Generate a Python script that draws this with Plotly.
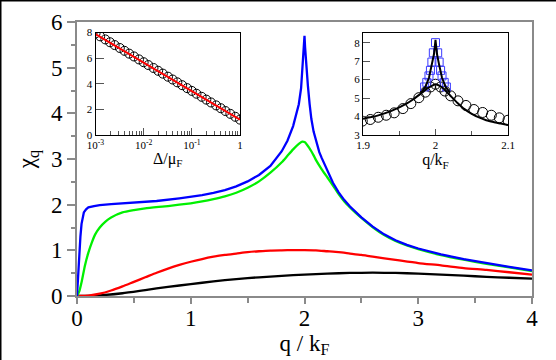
import plotly.graph_objects as go

# ---------------- main panel data ----------------
q_blue = [0, 0.01, 0.02, 0.03, 0.04, 0.05, 0.06, 0.08, 0.1, 0.15, 0.2, 0.3, 0.5, 0.7, 0.9, 1.0, 1.1, 1.2,
          1.3, 1.4, 1.5, 1.6, 1.7, 1.8, 1.85, 1.9, 1.95, 1.97, 1.985, 1.995, 2.0, 2.005, 2.015, 2.03,
          2.045, 2.06, 2.08, 2.1, 2.13, 2.15, 2.2, 2.25, 2.3, 2.35, 2.4, 2.45, 2.5, 2.6, 2.7, 2.8,
          2.9, 3.0, 3.2, 3.4, 3.6, 3.8, 4.0]
chi_blue = [0, 0.5, 0.95, 1.3, 1.58, 1.74, 1.83, 1.9, 1.94, 1.97, 1.99, 2.01, 2.04, 2.08, 2.14, 2.17,
            2.21, 2.26, 2.32, 2.4, 2.51, 2.65, 2.85, 3.17, 3.4, 3.72, 4.2, 4.55, 5.1, 5.45, 5.7, 5.45,
            5.05, 4.6, 4.2, 3.88, 3.6, 3.4, 3.15, 3.03, 2.74, 2.48, 2.27, 2.1, 1.96, 1.83, 1.72, 1.52,
            1.35, 1.22, 1.12, 1.04, 0.91, 0.81, 0.72, 0.64, 0.56]

q_green = [0, 0.02, 0.04, 0.07, 0.1, 0.13, 0.16, 0.2, 0.25, 0.3, 0.4, 0.5, 0.6, 0.8, 1.0, 1.1, 1.2,
           1.3, 1.4, 1.5, 1.6, 1.7, 1.8, 1.85, 1.9, 1.95, 1.98, 2.0, 2.02, 2.04, 2.06, 2.08, 2.1,
           2.15, 2.2, 2.25, 2.3, 2.35, 2.4, 2.45, 2.5, 2.6, 2.7, 2.8, 2.9, 3.0, 3.2, 3.4, 3.6, 3.8,
           4.0]
chi_green = [0, 0.1, 0.3, 0.67, 0.95, 1.17, 1.35, 1.5, 1.63, 1.72, 1.83, 1.88, 1.92, 1.97, 2.03, 2.07,
             2.12, 2.18, 2.26, 2.37, 2.51, 2.7, 2.93, 3.07, 3.21, 3.33, 3.38, 3.37, 3.32, 3.25, 3.17,
             3.08, 2.98, 2.78, 2.6, 2.42, 2.23, 2.07, 1.94, 1.82, 1.71, 1.505, 1.335, 1.205, 1.105,
             1.025, 0.895, 0.795, 0.705, 0.625, 0.545]

q_red = [0, 0.1, 0.2, 0.3, 0.4, 0.5, 0.6, 0.7, 0.8, 0.9, 1.0, 1.1, 1.2, 1.3, 1.4, 1.5, 1.6, 1.7, 1.8,
         1.9, 2.0, 2.1, 2.2, 2.3, 2.4, 2.5, 2.6, 2.8, 3.0, 3.2, 3.4, 3.6, 3.8, 4.0]
chi_red = [0, 0.01, 0.05, 0.12, 0.21, 0.31, 0.41, 0.51, 0.6, 0.68, 0.75, 0.81, 0.86, 0.9, 0.93,
           0.96, 0.98, 0.995, 1.0, 1.005, 1.005, 1.0, 0.98, 0.96, 0.93, 0.9, 0.86, 0.79, 0.72, 0.67,
           0.61, 0.57, 0.52, 0.47]

q_black = [0, 0.2, 0.4, 0.6, 0.8, 1.0, 1.2, 1.4, 1.6, 1.8, 2.0, 2.2, 2.4, 2.6, 2.8, 3.0, 3.2, 3.4,
           3.6, 3.8, 4.0]
chi_black = [0, 0.015, 0.06, 0.13, 0.2, 0.26, 0.32, 0.37, 0.41, 0.44, 0.47, 0.49, 0.505, 0.51, 0.505,
             0.49, 0.47, 0.445, 0.42, 0.4, 0.38]

# ---------------- inset 1 data (chi at q=2k_F vs Delta/mu_F) ----------------
delta_pts = [0.001, 0.00125, 0.0016, 0.002, 0.0025, 0.0032, 0.004, 0.005, 0.0063, 0.008,
             0.01, 0.0125, 0.016, 0.02, 0.025, 0.032, 0.04, 0.05, 0.063, 0.08,
             0.1, 0.125, 0.16, 0.2, 0.25, 0.32, 0.4, 0.5, 0.63, 0.8, 1.0]
chi_delta_pts = [7.92, 7.7, 7.46, 7.24, 7.02, 6.79, 6.57, 6.35, 6.13, 5.9,
                 5.68, 5.46, 5.23, 5.01, 4.79, 4.55, 4.33, 4.11, 3.89, 3.66,
                 3.44, 3.22, 2.98, 2.76, 2.54, 2.31, 2.09, 1.87, 1.65, 1.42, 1.2]
delta_line = [0.001, 1.0]
chi_delta_line = [7.88, 1.2]

# ---------------- inset 2 data (zoom near q = 2k_F) ----------------
q_circ = [1.899, 1.91, 1.921, 1.932, 1.943, 1.955, 1.966, 1.977, 1.986, 1.993, 2.0, 2.007, 2.013,
          2.021, 2.031, 2.042, 2.053, 2.065, 2.077, 2.088, 2.1]
chi_circ = [3.75, 3.84, 3.96, 4.07, 4.2, 4.43, 4.7, 5.02, 5.32, 5.6, 5.75, 5.6, 5.38, 5.12, 4.85,
            4.6, 4.38, 4.22, 4.07, 3.93, 3.8]
q_broad = [1.9, 1.92, 1.94, 1.96, 1.97, 1.98, 1.99, 2.0, 2.01, 2.02, 2.03, 2.04, 2.05, 2.06, 2.07,
           2.08, 2.09, 2.1]
chi_broad = [3.88, 4.05, 4.32, 4.7, 4.95, 5.25, 5.55, 5.75, 5.55, 5.15, 4.75, 4.4, 4.15, 3.95, 3.8,
             3.7, 3.62, 3.54]
q_sharp = [1.98, 1.986, 1.991, 1.995, 1.998, 2.0, 2.002, 2.005, 2.009, 2.014, 2.02]
chi_sharp = [5.3, 5.6, 6.1, 6.8, 7.4, 8.15, 7.4, 6.8, 6.1, 5.6, 5.3]
q_sq = [1.985, 1.988, 1.991, 1.993, 1.995, 1.997, 2.0, 2.003, 2.005, 2.007, 2.009, 2.012, 2.015]
chi_sq = [5.6, 5.85, 6.2, 6.5, 6.95, 7.45, 8.0, 7.45, 6.95, 6.5, 6.2, 5.85, 5.6]

decade_vals = [0.001, 0.01, 0.1, 1]
decade_text = ["10<sup>-3</sup>", "10<sup>-2</sup>", "10<sup>-1</sup>", "1"]
minor_log = [m * d for d in [0.001, 0.01, 0.1] for m in range(2, 10)]

FONT = "Liberation Serif"
GRAY = "#8a8a8a"

fig = go.Figure()

# main curves
fig.add_trace(go.Scatter(x=q_black, y=chi_black, mode="lines", line=dict(color="black", width=2.3, shape="spline", smoothing=0.6)))
fig.add_trace(go.Scatter(x=q_red, y=chi_red, mode="lines", line=dict(color="#ff0000", width=2.3, shape="spline", smoothing=0.6)))
fig.add_trace(go.Scatter(x=q_green, y=chi_green, mode="lines", line=dict(color="#00f000", width=2.3, shape="spline", smoothing=0.5)))
fig.add_trace(go.Scatter(x=q_blue, y=chi_blue, mode="lines", line=dict(color="#0000ff", width=2.3)))

# inset 1
fig.add_trace(go.Scatter(x=delta_pts, y=chi_delta_pts, mode="markers", xaxis="x2", yaxis="y2",
                         marker=dict(symbol="circle-open", size=9, color="black", line=dict(width=1, color="black"))))
fig.add_trace(go.Scatter(x=delta_line, y=chi_delta_line, mode="lines", xaxis="x2", yaxis="y2",
                         line=dict(color="#ff0000", width=2)))

# inset 2
fig.add_trace(go.Scatter(x=q_circ, y=chi_circ, mode="markers", xaxis="x3", yaxis="y3",
                         marker=dict(symbol="circle-open", size=10, color="black", line=dict(width=1, color="black"))))
fig.add_trace(go.Scatter(x=q_sq, y=chi_sq, mode="markers", xaxis="x3", yaxis="y3",
                         marker=dict(symbol="square-open", size=8, color="#3a3aff", line=dict(width=1, color="#3a3aff"))))
fig.add_trace(go.Scatter(x=q_broad, y=chi_broad, mode="lines", xaxis="x3", yaxis="y3",
                         line=dict(color="black", width=2, shape="spline", smoothing=0.5)))
fig.add_trace(go.Scatter(x=q_sharp, y=chi_sharp, mode="lines", xaxis="x3", yaxis="y3",
                         line=dict(color="black", width=2)))

L, R, T, B = 77, 24, 22, 64
W, H = 556, 360
pw, ph = W - L - R, H - T - B

def dx(px):
    return (px - L) / pw

def dy(py):
    return (H - B - py) / ph

inset_font = dict(family=FONT, size=11, color="black")

fig.update_layout(
    width=W, height=H,
    margin=dict(l=L, r=R, t=T, b=B, pad=0, autoexpand=False),
    paper_bgcolor="white", plot_bgcolor="white",
    showlegend=False,
    font=dict(family=FONT, color="black"),
    xaxis=dict(range=[0, 4], tick0=0, dtick=1, ticks="outside", ticklen=6, tickwidth=1.5, tickcolor=GRAY,
               minor=dict(dtick=0.5, ticks="outside", ticklen=4.5, tickwidth=1.5, tickcolor=GRAY),
               showline=True, linecolor=GRAY, linewidth=2, mirror=True, showgrid=False, zeroline=False,
               tickfont=dict(family=FONT, size=23), automargin=False, ticklabelstandoff=-6,
               title=dict(text="q / k<sub>F</sub>", font=dict(family=FONT, size=23), standoff=0)),
    yaxis=dict(range=[0, 6], tick0=0, dtick=1, ticks="outside", ticklen=8, tickwidth=1.5, tickcolor=GRAY,
               minor=dict(dtick=0.5, ticks="outside", ticklen=4.5, tickwidth=1.5, tickcolor=GRAY),
               showline=True, linecolor=GRAY, linewidth=2, mirror=True, showgrid=False, zeroline=False,
               tickfont=dict(family=FONT, size=23), automargin=False,
               title=dict(text="χ<sub>q</sub>", font=dict(family=FONT, size=23), standoff=10)),
    xaxis2=dict(domain=[dx(95.5), dx(240)], anchor="y2", type="log", range=[-3, 0],
                tickvals=decade_vals, ticktext=decade_text, ticks="inside", ticklen=7, tickcolor="#555",
                minor=dict(tickvals=minor_log, ticks="inside", ticklen=4, tickcolor="#555"),
                showline=True, linecolor="black", linewidth=1.2, mirror=True, showgrid=False, zeroline=False,
                tickfont=inset_font, automargin=False,
                title=dict(text="Δ/μ<sub>F</sub>", font=dict(family=FONT, size=16), standoff=2)),
    yaxis2=dict(domain=[dy(135), dy(32.5)], anchor="x2", range=[0, 8], dtick=2,
                ticks="inside", ticklen=8, tickcolor="#555", automargin=False,
                showline=True, linecolor="black", linewidth=1.2, mirror=True, showgrid=False, zeroline=False,
                tickfont=inset_font),
    xaxis3=dict(domain=[dx(363), dx(508)], anchor="y3", range=[1.9, 2.1], tick0=1.9, dtick=0.1,
                ticks="inside", ticklen=6, tickcolor="#555",
                minor=dict(dtick=0.05, ticks="inside", ticklen=4, tickcolor="#555"),
                showline=True, linecolor="black", linewidth=1.2, mirror=True, showgrid=False, zeroline=False,
                tickfont=inset_font, automargin=False,
                title=dict(text="q/k<sub>F</sub>", font=dict(family=FONT, size=16), standoff=2)),
    yaxis3=dict(domain=[dy(135), dy(32.5)], anchor="x3", range=[3, 8.55], tick0=3, dtick=1,
                ticks="inside", ticklen=7, tickcolor="#555", automargin=False,
                showline=True, linecolor="black", linewidth=1.2, mirror=True, showgrid=False, zeroline=False,
                tickfont=inset_font),
    shapes=[
        dict(type="line", xref="paper", yref="paper", x0=dx(0.75), x1=dx(0.75), y0=dy(0), y1=dy(H),
             line=dict(color="black", width=1.5)),
        dict(type="line", xref="paper", yref="paper", x0=dx(0), x1=dx(W), y0=dy(0.75), y1=dy(0.75),
             line=dict(color="black", width=1.5)),
    ],
)

fig.write_html("out.html", config={"displayModeBar": False},
               post_script="document.body.style.margin='0';document.body.style.padding='0';")
